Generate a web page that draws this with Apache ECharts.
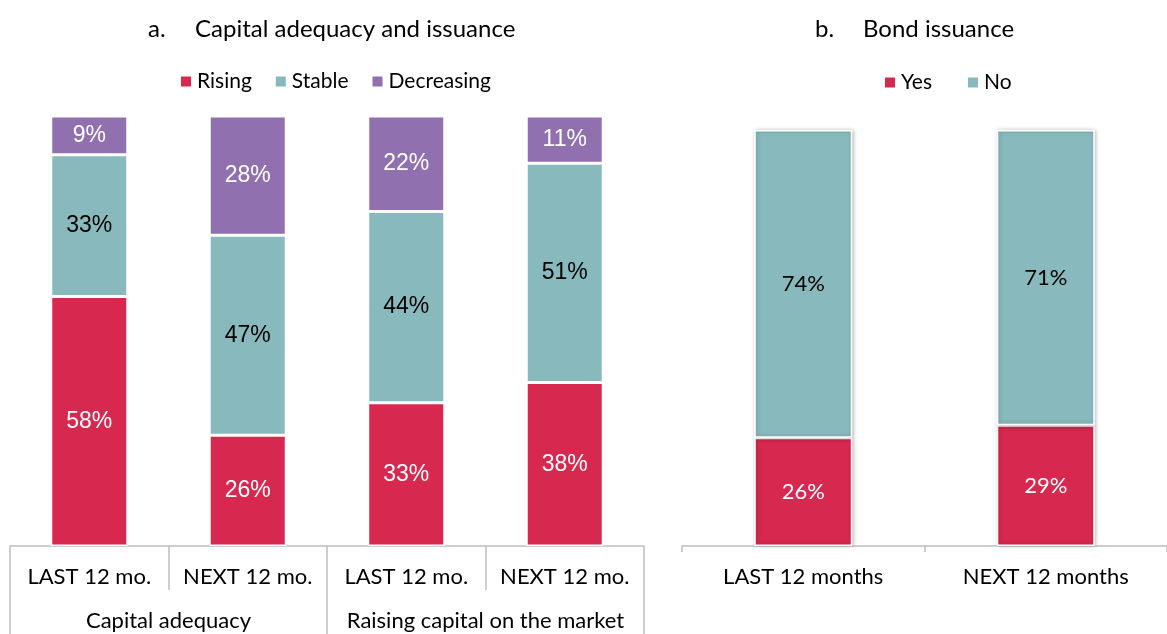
<!DOCTYPE html>
<html>
<head>
<meta charset="utf-8">
<script src="https://cdn.jsdelivr.net/npm/echarts@6/dist/echarts.min.js"></script>
<style>
  html, body { margin: 0; padding: 0; background: #fff; }
  #chart { width: 1167px; height: 634px; }
</style>
</head>
<body>
<div id="chart"></div>
<script>
// ---- data ----
const periodLabels = ["LAST 12 mo.", "NEXT 12 mo.", "LAST 12 mo.", "NEXT 12 mo."];
const groupLabels = ["Capital adequacy", "Raising capital on the market"];
const rising = [58, 26, 33, 38];
const stable = [33, 47, 44, 51];
const decreasing = [9, 28, 22, 11];

const bondLabels = ["LAST 12 months", "NEXT 12 months"];
const bondYes = [26, 29];
const bondNo = [74, 71];

const RED = "#d7284f";
const TEAL = "#88babd";
const PURPLE = "#9170b0";
const AXIS = "#bfbfbf";
const FONT = "Lato, 'Open Sans', sans-serif";
const NUMFONT = "'Liberation Sans Narrow', 'Liberation Sans', sans-serif";

// 100% stacked like the spreadsheet: each column normalised to its own total
function share(arr, parts) {
  return arr.map((v, i) => {
    const tot = parts.reduce((s, p) => s + p[i], 0);
    return { value: v / tot * 100, raw: v };
  });
}
const leftParts = [rising, stable, decreasing];

function leftSeries(name, arr, color, labelColor) {
  return {
    name: name,
    type: 'bar',
    stack: 'a',
    xAxisIndex: 0,
    yAxisIndex: 0,
    barWidth: 77,
    data: share(arr, leftParts),
    itemStyle: { color: color, borderColor: '#fff', borderWidth: 1.5 },
    label: {
      show: true,
      position: 'inside',
      color: labelColor,
      fontFamily: NUMFONT,
      fontSize: 23,
      formatter: p => p.data.raw + '%'
    }
  };
}

function rightSeries(name, arr, color, labelColor) {
  return {
    name: name,
    type: 'bar',
    stack: 'b',
    xAxisIndex: 2,
    yAxisIndex: 1,
    barWidth: 98,
    data: arr,
    itemStyle: {
      color: color, borderColor: '#fff', borderWidth: 1.5,
      shadowColor: 'rgba(0,0,0,0.25)', shadowBlur: 4, shadowOffsetX: 1
    },
    label: {
      show: true,
      position: 'inside',
      color: labelColor,
      fontFamily: FONT,
      fontSize: 22,
      formatter: '{c}%'
    }
  };
}

const titleStyle = { fontFamily: FONT, fontSize: 24, fontWeight: 'normal', color: '#000' };
const legendText = { fontFamily: FONT, fontSize: 21, color: '#000' };
const catLabel = { interval: 0, fontFamily: FONT, fontSize: 22, color: '#000' };

const chart = echarts.init(document.getElementById('chart'));

const option = {
  animation: false,
  title: [
    { text: 'a.', left: 143, top: 12, textStyle: titleStyle },
    { text: 'Capital adequacy and issuance', left: 190, top: 12, textStyle: titleStyle },
    { text: 'b.', left: 810, top: 12, textStyle: titleStyle },
    { text: 'Bond issuance', left: 858, top: 12, textStyle: titleStyle }
  ],
  legend: [
    { data: ['Rising', 'Stable', 'Decreasing'], left: 174, top: 66, icon: 'rect',
      itemWidth: 12, itemHeight: 12, itemGap: 22, textStyle: legendText },
    { data: ['Yes', 'No'], left: 878, top: 67, icon: 'rect',
      itemWidth: 12, itemHeight: 12, itemGap: 34, textStyle: legendText }
  ],
  grid: [
    { left: 10, width: 634, top: 116, bottom: 88 },
    { left: 682, width: 494, top: 130, bottom: 88 }
  ],
  xAxis: [
    { type: 'category', gridIndex: 0, data: periodLabels,
      axisLine: { lineStyle: { color: AXIS, width: 1.5 } },
      axisTick: { show: true, length: 44, interval: 0, lineStyle: { color: AXIS, width: 1.5 } },
      axisLabel: Object.assign({ margin: 20 }, catLabel) },
    { type: 'category', gridIndex: 0, data: groupLabels, position: 'bottom',
      axisLine: { show: false },
      axisTick: { show: true, length: 88, interval: 0, lineStyle: { color: AXIS, width: 1.5 } },
      axisLabel: Object.assign({ margin: 64 }, catLabel) },
    { type: 'category', gridIndex: 1, data: bondLabels,
      axisLine: { lineStyle: { color: AXIS, width: 1.5 } },
      axisTick: { show: true, length: 6, interval: 0, lineStyle: { color: AXIS, width: 1.5 } },
      axisLabel: Object.assign({ margin: 20 }, catLabel) }
  ],
  yAxis: [
    { type: 'value', gridIndex: 0, min: 0, max: 100, show: false },
    { type: 'value', gridIndex: 1, min: 0, max: 100, show: false }
  ],
  series: [
    leftSeries('Rising', rising, RED, '#fff'),
    leftSeries('Stable', stable, TEAL, '#000'),
    leftSeries('Decreasing', decreasing, PURPLE, '#fff'),
    rightSeries('Yes', bondYes, RED, '#fff'),
    rightSeries('No', bondNo, TEAL, '#000')
  ]
};

chart.setOption(option);
</script>
</body>
</html>
